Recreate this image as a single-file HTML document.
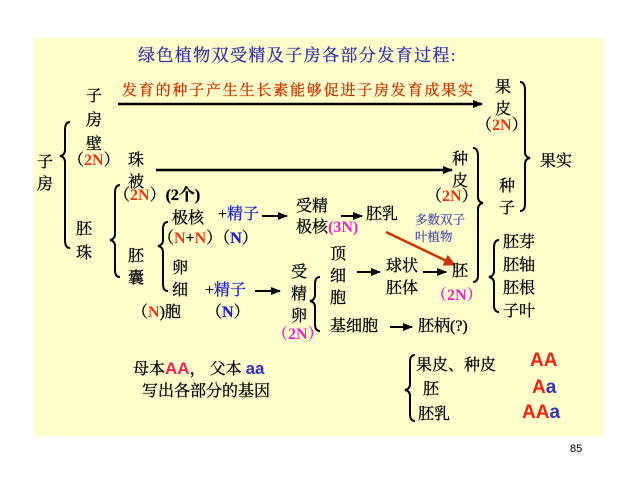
<!DOCTYPE html>
<html><head><meta charset="utf-8"><style>
body{margin:0;width:640px;height:480px;background:#fff;position:relative;overflow:hidden;font-family:"Liberation Serif","Noto Serif CJK SC",serif;}
#bg{position:absolute;left:33px;top:38px;width:570px;height:398px;background:#ffffcc;}
.t{position:absolute;font-size:16px;line-height:18px;color:#000;white-space:nowrap;-webkit-text-stroke:0.3px #000;}
.v{width:17px;white-space:normal;line-height:22px;}
.r{color:#ee3311;font-weight:bold;-webkit-text-stroke:0;}
.b{color:#2222cc;-webkit-text-stroke:0.3px #2222cc;}
.m{color:#ee22cc;font-weight:bold;-webkit-text-stroke:0;}
.s{font-family:"Liberation Sans","Noto Sans CJK SC",sans-serif;font-weight:bold;font-size:17px;-webkit-text-stroke:0;}
svg{position:absolute;left:0;top:0;}
</style></head><body>
<div id="bg"></div>
<svg width="640" height="480">
<defs><marker id="a" markerUnits="userSpaceOnUse" markerWidth="10" markerHeight="10" refX="9" refY="5" orient="auto"><path d="M0,1 L10,5 L0,9z" fill="#000"/></marker>
<marker id="ar" markerUnits="userSpaceOnUse" markerWidth="12" markerHeight="12" refX="11" refY="6" orient="auto"><path d="M0,0 L12,6 L0,12z" fill="#cc3300"/></marker></defs>
<g stroke="#000" stroke-width="2.5" fill="none">
<line x1="118" y1="104" x2="482" y2="104" marker-end="url(#a)"/>
<line x1="156" y1="170" x2="452" y2="170" marker-end="url(#a)"/>
</g>
<g stroke="#000" stroke-width="2" fill="none">
<line x1="262" y1="216" x2="287" y2="216" marker-end="url(#a)"/>
<line x1="341" y1="216" x2="362" y2="216" marker-end="url(#a)"/>
<line x1="255" y1="291" x2="280" y2="291" marker-end="url(#a)"/>
<line x1="357" y1="272" x2="380" y2="272" marker-end="url(#a)"/>
<line x1="423" y1="272" x2="446" y2="272" marker-end="url(#a)"/>
<line x1="390" y1="327" x2="412" y2="327" marker-end="url(#a)"/>
<!-- braces -->
<path d="M70,122 Q65,122 65,130 L65,150 Q65,155 60,156 Q65,157 65,162 L65,240 Q65,248 70,248"/>
<path d="M120,185 Q115,185 115,193 L115,234 Q115,239 110,240 Q115,241 115,246 L115,270 Q115,277 120,277"/>
<path d="M168,222 Q163,222 163,229 L163,240 Q163,245 158,246 Q163,247 163,252 L163,284 Q163,291 168,291"/>
<path d="M320,277 Q315,277 315,284 L315,295 Q315,300 310,301 Q315,302 315,307 L315,324 Q315,331 320,331"/>
<path d="M473,148 Q478,148 478,156 L478,197 Q478,202 483,203 Q478,204 478,209 L478,275 Q478,282 473,282"/>
<path d="M520,82 Q525,82 525,90 L525,152 Q525,157 530,158 Q525,159 525,164 L525,204 Q525,211 520,211"/>
<path d="M499,240 Q494,240 494,248 L494,271 Q494,276 489,277 Q494,278 494,283 L494,305 Q494,312 499,312"/>
<path d="M415,355 Q410,355 410,362 L410,384 Q410,389 405,390 Q410,391 410,396 L410,414 Q410,421 415,421"/>
</g>
<line x1="386" y1="232" x2="455" y2="265" stroke="#cc3300" stroke-width="2.5" marker-end="url(#ar)"/>
</svg>
<div class="t" style="left:138px;top:47px;font-size:17px;letter-spacing:1.4px;color:#3333aa;-webkit-text-stroke:0.3px #3333aa">绿色植物双受精及子房各部分发育过程:</div>
<div class="t" style="left:122px;top:82px;color:#cc3300;font-size:15px;letter-spacing:1.8px;-webkit-text-stroke:0.3px #cc3300">发育的种子产生生长素能够促进子房发育成果实</div>
<div class="t v" style="left:86px;top:85px;line-height:24px">子房壁</div>
<div class="t" style="left:68px;top:152px">（<span class="r">2N</span>）</div>
<div class="t v" style="left:37px;top:152px">子房</div>
<div class="t v" style="left:128px;top:150px">珠被</div>
<div class="t" style="left:114px;top:187px">（<span class="r">2N</span>）<b>(2个)</b></div>
<div class="t v" style="left:76px;top:218px;line-height:24px">胚珠</div>
<div class="t" style="left:172px;top:210px">极核</div>
<div class="t" style="left:158px;top:230px">（<span class="r">N</span>+<span class="r">N</span>）（<b class="b">N</b>）</div>
<div class="t" style="left:218px;top:206px">+<span class="b">精子</span></div>
<div class="t" style="left:296px;top:198px">受精</div>
<div class="t" style="left:296px;top:219px">极核<span class="m">(3N)</span></div>
<div class="t" style="left:366px;top:206px">胚乳</div>
<div class="t" style="left:415px;top:212px;font-size:12.5px;line-height:17px;color:#4444bb;-webkit-text-stroke:0.2px #4444bb">多数双子<br>叶植物</div>
<div class="t v" style="left:128px;top:246px">胚囊</div>
<div class="t v" style="left:172px;top:258px">卵细</div>
<div class="t" style="left:132px;top:304px">（<span class="r">N</span>)胞</div>
<div class="t" style="left:205px;top:282px">+<span class="b">精子</span></div>
<div class="t" style="left:206px;top:304px">（<b class="b">N</b>）</div>
<div class="t v" style="left:291px;top:262px">受精卵</div>
<div class="t" style="left:272px;top:326px"><span class="m">（2N）</span></div>
<div class="t v" style="left:330px;top:244px">顶细胞</div>
<div class="t" style="left:386px;top:256px;line-height:22px">球状<br>胚体</div>
<div class="t" style="left:452px;top:263px">胚</div>
<div class="t m" style="left:431px;top:287px">（2N）</div>
<div class="t" style="left:330px;top:318px">基细胞</div>
<div class="t" style="left:418px;top:318px">胚柄(?)</div>
<div class="t v" style="left:495px;top:77px">果皮</div>
<div class="t" style="left:476px;top:117px">（<span class="r">2N</span>）</div>
<div class="t v" style="left:452px;top:149px">种皮</div>
<div class="t" style="left:426px;top:188px">（<span class="r">2N</span>）</div>
<div class="t v" style="left:499px;top:176px">种子</div>
<div class="t" style="left:540px;top:153px">果实</div>
<div class="t v" style="left:503px;top:231px;width:36px;line-height:23px">胚芽胚轴胚根子叶</div>
<div class="t" style="left:133px;top:360px">母本<span class="s" style="color:#ee2255">AA</span>， 父本 <span class="s" style="color:#3333bb">aa</span></div>
<div class="t" style="left:142px;top:383px">写出各部分的基因</div>
<div class="t" style="left:416px;top:357px">果皮、种皮</div>
<div class="t" style="left:423px;top:381px">胚</div>
<div class="t" style="left:418px;top:406px">胚乳</div>
<div class="t s" style="left:530px;top:352px;font-size:19px;color:#ee2211">AA</div>
<div class="t s" style="left:532px;top:379px;font-size:19px"><span style="color:#ee2211">A</span><span style="color:#3333bb">a</span></div>
<div class="t s" style="left:522px;top:404px;font-size:19px"><span style="color:#ee2211">AA</span><span style="color:#3333bb">a</span></div>
<div class="t" style="left:570px;top:440px;font-size:11px;font-family:'Liberation Sans',sans-serif;-webkit-text-stroke:0">85</div>
</body></html>
